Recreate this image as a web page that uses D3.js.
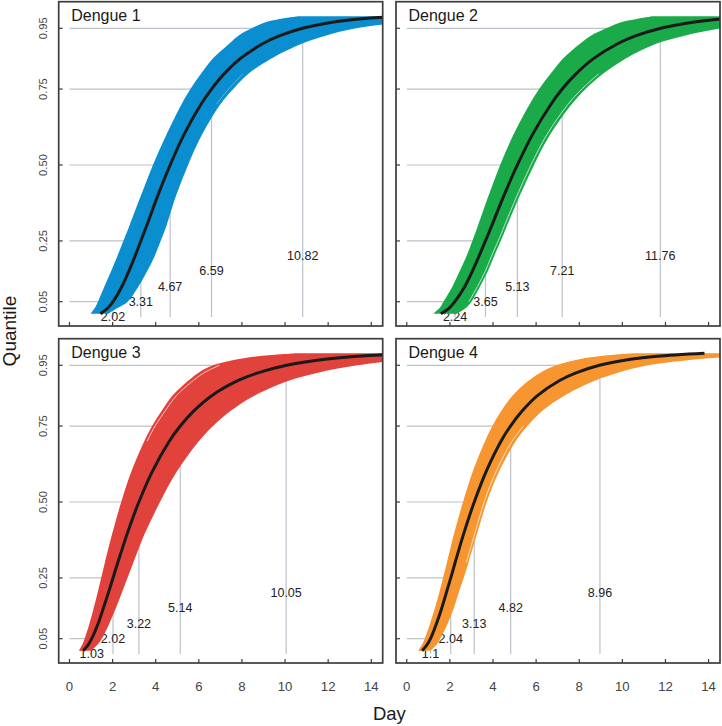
<!DOCTYPE html>
<html><head><meta charset="utf-8">
<script src="https://cdn.jsdelivr.net/npm/d3@7"></script>
<style>
body{margin:0;background:#fff}
svg{display:block}
text{font-family:"Liberation Sans", Arial, Helvetica, sans-serif}
</style>
</head><body>
<svg id="chart" width="722" height="726"></svg>
<script>
// ---------------- data ----------------
const panelTitles = ["Dengue 1", "Dengue 2", "Dengue 3", "Dengue 4"];
const bandColors = ["#0a8ecf", "#1baa4a", "#e2423c", "#f79630"];

// quantile levels at which the curves were read
const qLevels = [0.01, 0.03, 0.05, 0.1, 0.15, 0.2, 0.25, 0.3, 0.4, 0.5, 0.6, 0.7, 0.75, 0.8, 0.85, 0.9, 0.925, 0.95, 0.97, 0.98, 0.99];

// central (black) curve: day at each quantile level
const median1 = [1.43, 1.79, 2.02, 2.43, 2.75, 3.04, 3.31, 3.58, 4.10, 4.67, 5.31, 6.10, 6.59, 7.17, 7.92, 8.98, 9.73, 10.81, 12.18, 13.32, 15.29];
const median2 = [1.58, 1.98, 2.23, 2.69, 3.04, 3.35, 3.65, 3.94, 4.51, 5.13, 5.83, 6.69, 7.21, 7.85, 8.66, 9.80, 10.61, 11.78, 13.26, 14.47, 16.61];
const median3 = [0.64, 0.87, 1.03, 1.33, 1.57, 1.80, 2.02, 2.24, 2.70, 3.22, 3.84, 4.63, 5.14, 5.77, 6.60, 7.83, 8.74, 10.07, 11.86, 13.36, 16.14];
const median4 = [0.71, 0.94, 1.10, 1.38, 1.62, 1.83, 2.04, 2.24, 2.66, 3.13, 3.68, 4.37, 4.81, 5.36, 6.06, 7.09, 7.85, 8.94, 10.39, 11.60, 13.81];

// envelope of the simulated curves: fastest (left edge) and slowest (right edge)
const fast1 = [0.97, 1.18, 1.32, 1.62, 1.93, 2.22, 2.50, 2.78, 3.32, 3.87, 4.50, 5.20, 5.61, 6.10, 6.64, 7.42, 7.82, 8.45, 9.09, 9.70, 10.6];
const slow1 = [1.78, 2.25, 2.70, 3.20, 3.60, 3.95, 4.23, 4.50, 4.95, 5.50, 6.15, 7.00, 7.60, 8.30, 9.35, 10.8, 11.84, 13.3, 15.7, 18.0, 21.0];
const fast2 = [1.22, 1.53, 1.70, 2.12, 2.45, 2.77, 3.04, 3.30, 3.80, 4.33, 4.95, 5.70, 6.14, 6.67, 7.24, 8.05, 8.52, 9.25, 9.94, 10.6, 11.4];
const slow2 = [2.30, 2.75, 3.00, 3.40, 3.76, 4.05, 4.36, 4.65, 5.25, 5.90, 6.65, 7.65, 8.30, 9.10, 10.14, 11.6, 12.84, 14.6, 17.1, 19.0, 22.0];
const fast3 = [0.43, 0.59, 0.70, 0.93, 1.12, 1.30, 1.47, 1.64, 2.00, 2.40, 2.87, 3.47, 3.83, 4.28, 4.77, 5.52, 5.97, 6.65, 7.79, 8.75, 10.5];
const slow3 = [1.00, 1.30, 1.50, 1.85, 2.15, 2.42, 2.69, 2.96, 3.52, 4.20, 4.98, 6.00, 6.66, 7.48, 8.58, 10.2, 11.48, 13.35, 15.77, 17.8, 21.5];
const fast4 = [0.52, 0.70, 0.83, 1.08, 1.30, 1.50, 1.68, 1.86, 2.21, 2.61, 3.06, 3.63, 3.97, 4.39, 4.90, 5.66, 6.18, 6.93, 8.00, 8.90, 10.5];
const slow4 = [1.10, 1.38, 1.55, 1.90, 2.18, 2.40, 2.64, 2.86, 3.28, 3.71, 4.28, 5.05, 5.60, 6.29, 7.30, 8.75, 9.76, 11.2, 13.5, 15.6, 18.5];

// thin white gaps visible between simulated curves (null = not visible)
const gap1 = [null, null, null, null, null, null, null, null, null, null, null, 6.82, 7.38, 8.05, null, null, null, null, null, null, null];
const gap2 = [null, null, 2.88, 3.28, 3.64, 3.93, 4.24, 4.53, 5.12, 5.76, 6.50, 7.48, 8.12, 8.90, null, null, null, null, null, null, null];
const gap3 = [null, null, null, null, null, null, null, null, null, null, null, 3.60, 3.97, 4.44, 4.96, 5.75, 6.24, 6.95, null, null, null];
const gap4 = [null, null, null, null, null, null, null, 2.76, 3.17, 3.59, 4.14, 4.88, 5.42, null, null, null, null, null, null, null, null];

// marked quantiles and their day values
const markQuantiles = [0.05, 0.25, 0.50, 0.75, 0.95];
const markLabelLevels = [0, 0.05, 0.10, 0.15, 0.20];
const marks1 = [2.02, 3.31, 4.67, 6.59, 10.82];
const marks2 = [2.24, 3.65, 5.13, 7.21, 11.76];
const marks3 = [1.03, 2.02, 3.22, 5.14, 10.05];
const marks4 = [1.1, 2.04, 3.13, 4.82, 8.96];

const xTicks = [0, 2, 4, 6, 8, 10, 12, 14];
const yTicks = [0.05, 0.25, 0.50, 0.75, 0.95];
const yTickLabels = ["0.05", "0.25", "0.50", "0.75", "0.95"];

const medians = [median1, median2, median3, median4];
const fasts = [fast1, fast2, fast3, fast4];
const slows = [slow1, slow2, slow3, slow4];
const gaps = [gap1, gap2, gap3, gap4];
const marks = [marks1, marks2, marks3, marks4];

// ---------------- layout ----------------
const panelW = 324, panelH = 324.3;
const lefts = [58.7, 396, 58.7, 396];
const tops = [1.7, 1.7, 338.7, 338.7];
const xDomain = [-0.5, 14.53];
const yDomain = [-0.03, 1.0375];
const gridColor = "#bcc1ca";
const frameColor = "#3c3c3c";
const smooth = d3.curveCatmullRom.alpha(0.5);

const svg = d3.select("#chart");

panelTitles.forEach((title, i) => {
  const L = lefts[i], T = tops[i];
  const x = d3.scaleLinear().domain(xDomain).range([L, L + panelW]);
  const y = d3.scaleLinear().domain(yDomain).range([T + panelH, T]);
  const g = svg.append("g");

  const clipId = "clip" + i;
  svg.append("clipPath").attr("id", clipId)
    .append("rect").attr("x", L).attr("y", T).attr("width", panelW).attr("height", panelH);

  const inner = g.append("g").attr("clip-path", `url(#${clipId})`);

  // quantile guide segments
  markQuantiles.forEach((q, k) => {
    inner.append("line")
      .attr("x1", x(0)).attr("x2", x(marks[i][k]))
      .attr("y1", y(q)).attr("y2", y(q))
      .attr("stroke", gridColor).attr("stroke-width", 1.2);
    inner.append("line")
      .attr("x1", x(marks[i][k])).attr("x2", x(marks[i][k]))
      .attr("y1", y(0)).attr("y2", y(q))
      .attr("stroke", gridColor).attr("stroke-width", 1.2);
  });

  // labels of the marked days
  markQuantiles.forEach((q, k) => {
    inner.append("text")
      .attr("x", x(marks[i][k])).attr("y", y(markLabelLevels[k]))
      .attr("text-anchor", "middle").attr("dominant-baseline", "central")
      .attr("font-size", 12.5).attr("fill", "#222")
      .text(String(marks[i][k]));
  });

  // band of simulated curves
  const bandData = qLevels.map((q, k) => ({ q, lo: fasts[i][k], hi: slows[i][k] }));
  inner.append("path")
    .datum(bandData)
    .attr("d", d3.area()
      .y(d => y(d.q))
      .x0(d => x(d.lo))
      .x1(d => x(d.hi))
      .curve(smooth))
    .attr("fill", bandColors[i]);

  // white gaps between individual simulated curves
  const gapData = qLevels.map((q, k) => ({ q, d: gaps[i][k] }));
  inner.append("path")
    .datum(gapData)
    .attr("d", d3.line().defined(d => d.d !== null)
      .y(d => y(d.q)).x(d => x(d.d)).curve(smooth))
    .attr("fill", "none").attr("stroke", "#fff").attr("stroke-width", 0.9)
    .attr("stroke-opacity", i === 0 ? 0.35 : 0.75);

  // central curve
  const medData = qLevels.map((q, k) => ({ q, d: medians[i][k] }));
  inner.append("path")
    .datum(medData)
    .attr("d", d3.line().y(d => y(d.q)).x(d => x(d.d)).curve(smooth))
    .attr("fill", "none").attr("stroke", "#1a1a1a").attr("stroke-width", 3)
    .attr("stroke-linecap", "butt");

  // ticks (inward)
  xTicks.forEach(t => {
    g.append("line").attr("x1", x(t)).attr("x2", x(t))
      .attr("y1", T + panelH).attr("y2", T + panelH - 4)
      .attr("stroke", frameColor).attr("stroke-width", 1.2);
  });
  yTicks.forEach(t => {
    g.append("line").attr("x1", L).attr("x2", L + 4)
      .attr("y1", y(t)).attr("y2", y(t))
      .attr("stroke", frameColor).attr("stroke-width", 1.2);
  });

  // frame
  g.append("rect").attr("x", L).attr("y", T).attr("width", panelW).attr("height", panelH)
    .attr("fill", "none").attr("stroke", frameColor).attr("stroke-width", 1.7);

  // title
  g.append("text").attr("x", L + 12.5).attr("y", T + 19.5)
    .attr("font-size", 16).attr("fill", "#1a1a1a").text(title);

  // y tick labels on left panels
  if (i % 2 === 0) {
    yTicks.forEach((t, k) => {
      g.append("text")
        .attr("transform", `translate(${46.5},${y(t)}) rotate(-90)`)
        .attr("text-anchor", "middle")
        .attr("font-size", 11.2).attr("fill", "#444")
        .text(yTickLabels[k]);
    });
  }
  // x tick labels on bottom panels
  if (i >= 2) {
    xTicks.forEach(t => {
      g.append("text")
        .attr("x", x(t)).attr("y", 690.5)
        .attr("text-anchor", "middle")
        .attr("font-size", 13.2).attr("fill", "#444")
        .text(String(t));
    });
  }
});

// axis titles
svg.append("text")
  .attr("x", 389.4).attr("y", 720)
  .attr("text-anchor", "middle")
  .attr("font-size", 18.5).attr("fill", "#1a1a1a")
  .text("Day");
svg.append("text")
  .attr("transform", "translate(16,331) rotate(-90)")
  .attr("text-anchor", "middle")
  .attr("font-size", 19).attr("fill", "#1a1a1a")
  .text("Quantile");
</script>
</body></html>
